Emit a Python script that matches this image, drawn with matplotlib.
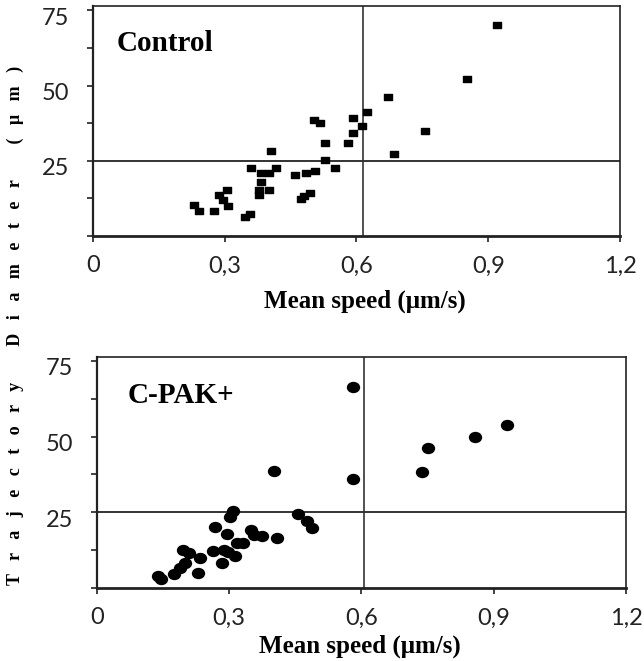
import matplotlib
matplotlib.use("Agg")
import matplotlib.pyplot as plt
import matplotlib.transforms as mtransforms
from matplotlib.path import Path
from matplotlib.transforms import Affine2D

# --- DATA ---
ctrl_speed = [0.920, 0.852, 0.672, 0.624, 0.591, 0.612, 0.591, 0.755, 0.581, 0.686,
              0.504, 0.517, 0.528, 0.528, 0.551, 0.505, 0.486, 0.459, 0.406, 0.359,
              0.416, 0.382, 0.401, 0.382, 0.379, 0.401, 0.379, 0.494, 0.473, 0.481,
              0.305, 0.288, 0.296, 0.307, 0.275, 0.241, 0.231, 0.347, 0.357]
ctrl_diam = [70.0, 52.2, 46.3, 41.2, 39.2, 36.7, 34.4, 35.0, 30.9, 27.3,
             38.7, 37.6, 30.9, 25.3, 22.6, 21.7, 20.9, 20.3, 28.1, 22.6,
             22.6, 20.9, 20.9, 18.1, 15.3, 15.3, 13.7, 14.4, 12.2, 13.3,
             15.3, 13.7, 12.0, 10.1, 8.4, 8.4, 10.3, 6.2, 7.3]

cpak_speed = [0.581, 0.930, 0.857, 0.752, 0.738, 0.402, 0.581, 0.309, 0.302, 0.457,
              0.477, 0.488, 0.268, 0.294, 0.349, 0.356, 0.375, 0.408, 0.317, 0.332,
              0.196, 0.209, 0.234, 0.264, 0.287, 0.298, 0.283, 0.313, 0.200, 0.188,
              0.175, 0.139, 0.145, 0.230]
cpak_diam = [66.4, 53.8, 49.8, 46.3, 38.4, 38.8, 36.1, 25.5, 23.6, 24.4,
             22.3, 19.8, 20.1, 17.8, 19.2, 17.5, 17.2, 16.5, 14.8, 15.0,
             12.4, 11.7, 10.0, 12.3, 12.6, 12.0, 8.4, 10.6, 8.2, 6.5,
             4.6, 4.1, 3.0, 5.1]

x_ticks = [0, 0.3, 0.6, 0.9, 1.2]
x_ticklabels = ["0", "0,3", "0,6", "0,9", "1,2"]
y_ticks = [0, 12.5, 25, 37.5, 50, 62.5, 75]
y_ticklabels = ["", "", "25", "", "50", "", "75"]

# --- FIGURE ---
fig = plt.figure(figsize=(6.44, 6.61), dpi=100)
ax1 = fig.add_axes([0.1444, 0.6430, 0.8183, 0.3472])
ax2 = fig.add_axes([0.1506, 0.1104, 0.8214, 0.3495])

rect = Path([(-1, -0.7), (1, -0.7), (1, 0.7), (-1, 0.7), (-1, -0.7)],
            [Path.MOVETO, Path.LINETO, Path.LINETO, Path.LINETO, Path.CLOSEPOLY])
ellipse = Path.unit_circle().transformed(Affine2D().scale(1.2, 1.0))

tick_font = dict(family=["Lato", "DejaVu Sans"], size=17, color="#2a2a2a")


def style_axes(ax, vline, hline):
    ax.set_xlim(0, 1.2)
    ax.set_ylim(0, 76.3)
    ax.axvline(vline, color="#333333", lw=1.2, zorder=1)
    ax.axhline(hline, color="#333333", lw=1.4, zorder=1)
    for s in ax.spines.values():
        s.set_color("#222222")
        s.set_linewidth(1.2)
    ax.spines["bottom"].set_linewidth(2.0)
    ax.spines["left"].set_linewidth(1.6)
    ax.set_xticks(x_ticks)
    ax.set_xticklabels(x_ticklabels, fontdict=tick_font)
    ax.set_yticks(y_ticks)
    ax.set_yticklabels(y_ticklabels, fontdict=tick_font)
    ax.tick_params(axis="x", direction="out", length=4, width=1.2, pad=10, colors="#222222")
    ax.tick_params(axis="y", direction="out", length=4, width=1.2, pad=13, colors="#222222")
    # the y labels sit a little below their ticks in the original
    off = mtransforms.ScaledTranslation(0, -6 / 100, fig.dpi_scale_trans)
    for lab in ax.get_yticklabels():
        lab.set_transform(lab.get_transform() + off)


style_axes(ax1, 0.615, 25)
style_axes(ax2, 0.605, 25)

ax1.plot(ctrl_speed, ctrl_diam, linestyle="none", marker=rect, markersize=5.3,
         color="black", zorder=3)
ax2.plot(cpak_speed, cpak_diam, linestyle="none", marker=ellipse, markersize=8.6,
         color="black", zorder=3)

ax1.text(0.044, 0.84, "Control", transform=ax1.transAxes, family="Liberation Serif",
         weight="bold", size=21, va="center", ha="left")
ax2.text(0.057, 0.835, "C-PAK+", transform=ax2.transAxes, family="Liberation Serif",
         weight="bold", size=21, va="center", ha="left")

ax1.set_xlabel("Mean speed (\u03bcm/s)", family="Liberation Serif", weight="bold", size=18)
ax1.xaxis.set_label_coords(0.516, -0.235)
ax2.set_xlabel("Mean speed (\u03bcm/s)", family="Liberation Serif", weight="bold", size=18)
ax2.xaxis.set_label_coords(0.497, -0.2)

sp = "   "
ylab = (sp.join("Trajectory") + " " * 8 + sp.join("Diameter") + " " * 8
        + sp.join("(\u03bcm)"))
fig.text(15 / 644, 1 - 325 / 661, ylab, rotation=90, family="Liberation Serif",
         weight="bold", size=13, ha="center", va="center")

fig.savefig("out.png", dpi=100)
